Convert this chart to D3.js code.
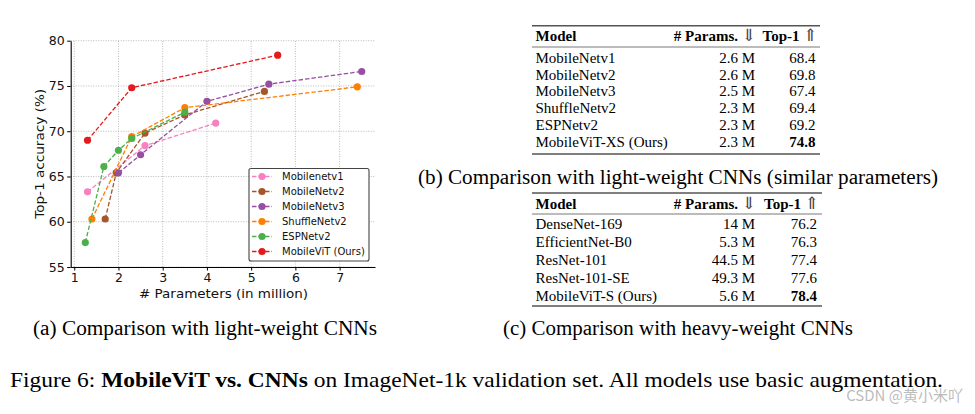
<!DOCTYPE html>
<html lang="en">
<head>
<meta charset="UTF-8">
<title>MobileViT vs CNNs</title>
<script src="https://cdn.jsdelivr.net/npm/d3@7"></script>
<style>
    body { margin: 0; background: #fff; }
    svg { display: block; }
</style>
</head>
<body>
<div id="fig"></div>
<script>
// ---- chart (a) data ----
const seriesNames = ["Mobilenetv1", "MobileNetv2", "MobileNetv3", "ShuffleNetv2", "ESPNetv2", "MobileViT (Ours)"];
const seriesColors = ["#f781bf", "#a65628", "#984ea3", "#ff7f00", "#4daf4a", "#e41a1c"];

const mnv1Params = [1.3, 2.6, 4.2];
const mnv1Acc = [63.3, 68.4, 70.9];
const mnv2Params = [1.7, 1.95, 2.6, 3.5, 5.3];
const mnv2Acc = [60.3, 65.4, 69.8, 71.8, 74.4];
const mnv3Params = [2.0, 2.5, 4.0, 5.4, 7.5];
const mnv3Acc = [65.4, 67.4, 73.3, 75.2, 76.6];
const shuffleParams = [1.4, 2.3, 3.5, 7.4];
const shuffleAcc = [60.3, 69.4, 72.6, 74.9];
const espParams = [1.25, 1.67, 2.0, 2.3, 3.5];
const espAcc = [57.7, 66.1, 67.9, 69.2, 72.1];
const vitParams = [1.3, 2.3, 5.6];
const vitAcc = [69.0, 74.8, 78.4];

const xTicks = [1, 2, 3, 4, 5, 6, 7];
const yTicks = [55, 60, 65, 70, 75, 80];

// ---- table (b) data ----
const lightModels = ["MobileNetv1", "MobileNetv2", "MobileNetv3", "ShuffleNetv2", "ESPNetv2", "MobileViT-XS (Ours)"];
const lightParams = ["2.6 M", "2.6 M", "2.5 M", "2.3 M", "2.3 M", "2.3 M"];
const lightTop1 = ["68.4", "69.8", "67.4", "69.4", "69.2", "74.8"];

// ---- table (c) data ----
const heavyModels = ["DenseNet-169", "EfficientNet-B0", "ResNet-101", "ResNet-101-SE", "MobileViT-S (Ours)"];
const heavyParams = ["14 M", "5.3 M", "44.5 M", "49.3 M", "5.6 M"];
const heavyTop1 = ["76.2", "76.3", "77.4", "77.6", "78.4"];

const series = [
    [mnv1Params, mnv1Acc], [mnv2Params, mnv2Acc], [mnv3Params, mnv3Acc],
    [shuffleParams, shuffleAcc], [espParams, espAcc], [vitParams, vitAcc]
].map((s, i) => ({
    name: seriesNames[i],
    color: seriesColors[i],
    points: s[0].map((p, j) => [p, s[1][j]])
}));

const width = 975, height = 414;
const svg = d3.select("#fig").append("svg").attr("width", width).attr("height", height)
    .style("background", "#fff");

const sans = "'DejaVu Sans', sans-serif";
const serif = "'Liberation Serif', 'Times New Roman', 'DejaVu Serif', serif";

// stretch a text node so it covers a given width (the reference text is wide)
function fitWidth(sel, target) {
    sel.attr("textLength", target).attr("lengthAdjust", "spacingAndGlyphs");
}

// scales
const x = d3.scaleLinear().domain([0.92, 7.8]).range([70.7, 375]);
const y = d3.scaleLinear().domain([55, 80]).range([267, 40.7]);

// grid
const grid = svg.append("g");
grid.selectAll(".gx").data(xTicks).join("line")
    .attr("x1", d => x(d)).attr("x2", d => x(d)).attr("y1", y(55)).attr("y2", y(80))
    .attr("stroke", "#aaa").attr("stroke-width", 0.8).attr("stroke-dasharray", "1,1.5");
grid.selectAll(".gy").data(yTicks).join("line")
    .attr("x1", x.range()[0]).attr("x2", x.range()[1]).attr("y1", d => y(d)).attr("y2", d => y(d))
    .attr("stroke", "#aaa").attr("stroke-width", 0.8).attr("stroke-dasharray", "1,1.5");

// axes
const xAxis = svg.append("g").attr("transform", `translate(0,${y(55)})`)
    .call(d3.axisBottom(x).tickValues(xTicks).tickFormat(d3.format("d"))
        .tickSize(3.5).tickPadding(2.5).tickSizeOuter(0));
const yAxis = svg.append("g").attr("transform", `translate(${x.range()[0]},0)`)
    .call(d3.axisLeft(y).tickValues(yTicks).tickFormat(d3.format("d"))
        .tickSize(3.5).tickPadding(2.5).tickSizeOuter(0));
[xAxis, yAxis].forEach(a => {
    a.select(".domain").attr("stroke", "#000").attr("stroke-width", 1.1);
    a.selectAll(".tick line").attr("stroke", "#000");
    a.selectAll("text").attr("font-family", sans).attr("font-size", 12.5).attr("fill", "#111");
});

const xLab = svg.append("text").attr("x", 139).attr("y", 298)
    .attr("font-family", sans).attr("font-size", 12.8).attr("fill", "#111")
    .text("# Parameters (in million)");
fitWidth(xLab, 169);
const yLab = svg.append("text").attr("transform", `translate(44,${(y(55) + y(80)) / 2 + 65}) rotate(-90)`)
    .attr("font-family", sans).attr("font-size", 12.8).attr("fill", "#111")
    .text("Top-1 accuracy (%)");
fitWidth(yLab, 130);

// lines and markers
const line = d3.line().x(d => x(d[0])).y(d => y(d[1]));
const sg = svg.append("g").selectAll("g").data(series).join("g");
sg.append("path").attr("d", d => line(d.points)).attr("fill", "none")
    .attr("stroke", d => d.color).attr("stroke-width", 1.3).attr("stroke-dasharray", "4.5,2");
sg.selectAll("circle").data(d => d.points.map(p => ({ p, color: d.color }))).join("circle")
    .attr("cx", d => x(d.p[0])).attr("cy", d => y(d.p[1])).attr("r", 3.6)
    .attr("fill", d => d.color);

// legend
const lg = svg.append("g");
lg.append("rect").attr("x", 249).attr("y", 168.5).attr("width", 120).attr("height", 92.5)
    .attr("rx", 2).attr("fill", "#fff").attr("stroke", "#444").attr("stroke-width", 1.1);
const li = lg.selectAll("g").data(series).join("g")
    .attr("transform", (d, i) => `translate(0,${176.5 + i * 15})`);
li.append("line").attr("x1", 252).attr("x2", 272).attr("stroke", d => d.color)
    .attr("stroke-width", 1.3).attr("stroke-dasharray", "4.5,2");
li.append("circle").attr("cx", 262).attr("r", 3.6).attr("fill", d => d.color);
li.append("text").attr("x", 282).attr("y", 3.7).attr("font-family", sans).attr("font-size", 10)
    .attr("fill", "#111").text(d => d.name);

// tables
function drawTable(cfg) {
    const g = svg.append("g");
    const rule = (yy, w) => g.append("line").attr("x1", cfg.x0).attr("x2", cfg.x1)
        .attr("y1", yy).attr("y2", yy).attr("stroke", "#555").attr("stroke-width", w);
    rule(cfg.top, 1.4);
    rule(cfg.mid, 0.8);
    rule(cfg.bottom, 1.4);
    const hy = cfg.header + 5;
    g.append("text").attr("x", cfg.colModel).attr("y", hy).attr("font-family", serif)
        .attr("font-size", 15).attr("font-weight", "bold").text("Model");
    const h2 = g.append("text").attr("x", cfg.colParams + 1).attr("y", hy).attr("text-anchor", "end")
        .attr("font-family", serif).attr("font-size", 15);
    h2.append("tspan").attr("font-weight", "bold").text("# Params. ");
    h2.append("tspan").attr("font-family", "'DejaVu Serif', serif").attr("font-size", 17).attr("fill", "#444").text("⇓");
    const h3 = g.append("text").attr("x", cfg.colTop + 2).attr("y", hy).attr("text-anchor", "end")
        .attr("font-family", serif).attr("font-size", 15);
    h3.append("tspan").attr("font-weight", "bold").text("Top-1 ");
    h3.append("tspan").attr("font-family", "'DejaVu Serif', serif").attr("font-size", 17).attr("fill", "#444").text("⇑");
    const rows = g.selectAll(".row").data(cfg.models).join("g")
        .attr("transform", (d, i) => `translate(0,${cfg.rows[i] + 5})`);
    rows.append("text").attr("x", cfg.colModel).attr("font-family", serif).attr("font-size", 15)
        .text(d => d);
    rows.append("text").attr("x", cfg.colParams).attr("text-anchor", "end").attr("font-family", serif)
        .attr("font-size", 15).text((d, i) => cfg.params[i]);
    rows.append("text").attr("x", cfg.colTop).attr("text-anchor", "end").attr("font-family", serif)
        .attr("font-size", 15).attr("font-weight", (d, i) => i === cfg.models.length - 1 ? "bold" : "normal")
        .text((d, i) => cfg.top1[i]);
}

drawTable({
    x0: 532, x1: 820, top: 25.8, mid: 47, bottom: 154,
    header: 36, rows: [57.8, 74.5, 91.2, 107.9, 124.6, 141.8],
    colModel: 535.5, colParams: 755, colTop: 815.5,
    models: lightModels, params: lightParams, top1: lightTop1
});
drawTable({
    x0: 532, x1: 822, top: 193, mid: 214, bottom: 306,
    header: 204, rows: [223.5, 241.7, 259.9, 278.1, 296.3],
    colModel: 535.5, colParams: 755, colTop: 817,
    models: heavyModels, params: heavyParams, top1: heavyTop1
});

// captions
const caption = (txt, x0, x1, cy, size) => fitWidth(svg.append("text").attr("x", x0).attr("y", cy + size * 0.33)
    .attr("font-family", serif).attr("font-size", size).text(txt), x1 - x0);
caption("(b) Comparison with light-weight CNNs (similar parameters)", 418, 938, 177, 20);
caption("(a) Comparison with light-weight CNNs", 33, 377, 328, 20);
caption("(c) Comparison with heavy-weight CNNs", 503, 853, 328, 20);

const fc = svg.append("text").attr("x", 10).attr("y", 387).attr("font-family", serif)
    .attr("font-size", 21.5);
fc.append("tspan").text("Figure 6: ");
fc.append("tspan").attr("font-weight", "bold").text("MobileViT vs. CNNs");
fc.append("tspan").text(" on ImageNet-1k validation set. All models use basic augmentation.");
fitWidth(fc, 933);

// watermark
svg.append("text").attr("x", 963).attr("y", 401).attr("text-anchor", "end")
    .attr("font-family", "'Noto Sans CJK SC', sans-serif").attr("font-size", 15)
    .attr("fill", "#aaa").attr("fill-opacity", 0.8).text("CSDN @黄小米吖");
</script>
</body>
</html>
